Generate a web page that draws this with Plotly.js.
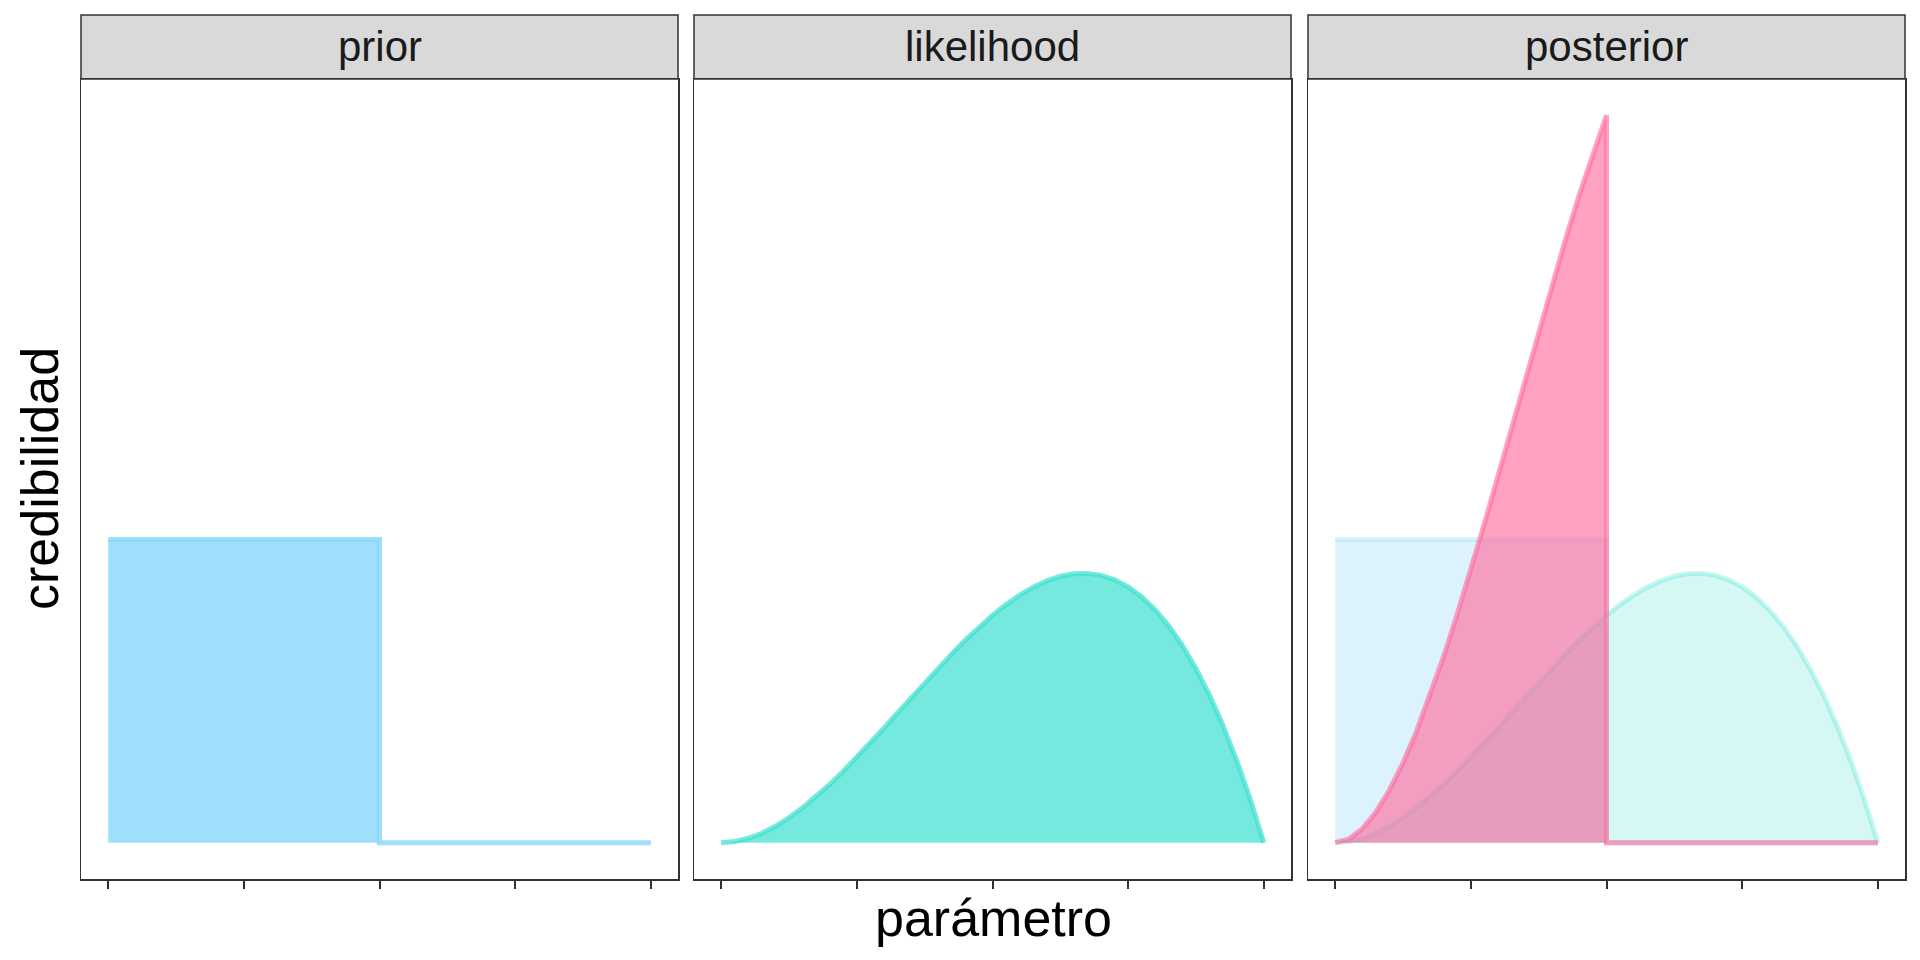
<!DOCTYPE html>
<html>
<head>
<meta charset="utf-8">
<script src="https://cdn.plot.ly/plotly-3.0.1.min.js"></script>
<style>
  html, body { margin: 0; padding: 0; background: #ffffff; }
  #chart { width: 1920px; height: 960px; }
</style>
</head>
<body>
<div id="chart"></div>
<script>
// ---- data ----
const panels = ['prior', 'likelihood', 'posterior'];
const tickValues = [0, 0.25, 0.5, 0.75, 1];

const priorX = [0, 0.5, 0.5, 1];
const priorY = [2, 2, 0, 0];

const likelihoodX = [0, 0.025, 0.05, 0.075, 0.1, 0.125, 0.15, 0.175, 0.2, 0.225, 0.25,
  0.275, 0.3, 0.325, 0.35, 0.375, 0.4, 0.425, 0.45, 0.475, 0.5,
  0.525, 0.55, 0.575, 0.6, 0.625, 0.65, 0.675, 0.7, 0.725, 0.75,
  0.775, 0.8, 0.825, 0.85, 0.875, 0.9, 0.925, 0.95, 0.975, 1];
const likelihoodY = [0, 0.007, 0.029, 0.062, 0.108, 0.164, 0.230, 0.303, 0.384, 0.471, 0.563,
  0.658, 0.756, 0.856, 0.956, 1.055, 1.152, 1.246, 1.337, 1.421, 1.500,
  1.571, 1.634, 1.686, 1.728, 1.758, 1.775, 1.777, 1.764, 1.735, 1.688,
  1.622, 1.536, 1.429, 1.301, 1.148, 0.972, 0.770, 0.542, 0.285, 0];

const posteriorX = [0, 0.025, 0.05, 0.075, 0.1, 0.125, 0.15, 0.175, 0.2, 0.225, 0.25,
  0.275, 0.3, 0.325, 0.35, 0.375, 0.4, 0.425, 0.45, 0.475, 0.5, 0.5, 1];
const posteriorY = [0, 0.023, 0.091, 0.200, 0.346, 0.525, 0.734, 0.970, 1.229, 1.507, 1.800,
  2.105, 2.419, 2.738, 3.058, 3.375, 3.686, 3.988, 4.277, 4.549, 4.800, 0, 0];

// ---- styling ----
const FONT = 'Liberation Sans, Arial, Helvetica, sans-serif';
const PRIOR_RGB = '135,215,250';
const LIK_RGB = '64,224,208';
const POST_RGB = '255,110,160';

function area(x, y, rgb, fillA, lineA, xa, ya) {
  return {
    type: 'scatter', mode: 'lines', x: x, y: y,
    xaxis: xa, yaxis: ya,
    fill: 'tozeroy',
    fillcolor: 'rgba(' + rgb + ',' + fillA + ')',
    line: { color: 'rgba(' + rgb + ',' + lineA + ')', width: 5 },
    hoverinfo: 'skip', showlegend: false
  };
}

const traces = [
  area(priorX, priorY, PRIOR_RGB, 0.8, 0.8, 'x', 'y'),
  area(likelihoodX, likelihoodY, LIK_RGB, 0.72, 0.72, 'x2', 'y2'),
  area(priorX, priorY, PRIOR_RGB, 0.29, 0.3, 'x3', 'y3'),
  area(likelihoodX, likelihoodY, LIK_RGB, 0.22, 0.3, 'x3', 'y3'),
  area(posteriorX, posteriorY, POST_RGB, 0.65, 0.65, 'x3', 'y3')
];

// geometry (pixels)
const W = 1920, H = 960;
const mL = 81, mR = 15, mT = 15, mB = 81;
const pw = W - mL - mR;   // 1824
const ph = H - mT - mB;   // 864
const panelPx = [[81, 678], [694, 1291], [1308, 1905]];
const domains = panelPx.map(p => [(p[0] - mL) / pw, (p[1] - mL) / pw]);
const panelTop = 800 / ph;  // panel area height 800 px

function xax(i) {
  return {
    domain: domains[i], range: [-0.05, 1.05], anchor: i === 0 ? 'y' : 'y' + (i + 1),
    showgrid: false, zeroline: false, showline: true, mirror: true,
    linecolor: '#333333', linewidth: 1.5,
    ticks: 'outside', ticklen: 8, tickwidth: 2, tickcolor: '#333333',
    tickmode: 'array', tickvals: tickValues, showticklabels: false, fixedrange: true
  };
}
function yax(i) {
  return {
    domain: [0, panelTop], range: [-0.24, 5.04], anchor: i === 0 ? 'x' : 'x' + (i + 1),
    showgrid: false, zeroline: false, showline: true, mirror: true,
    linecolor: '#333333', linewidth: 1.5,
    ticks: '', showticklabels: false, fixedrange: true
  };
}

const shapes = domains.map(d => ({
  type: 'rect', xref: 'paper', yref: 'paper',
  x0: d[0], x1: d[1], y0: panelTop, y1: 1,
  fillcolor: '#d9d9d9', line: { color: '#333333', width: 1.5 }, layer: 'below'
}));

const annotations = panels.map((name, i) => ({
  text: name, xref: 'paper', yref: 'paper',
  x: (domains[i][0] + domains[i][1]) / 2, y: (panelTop + 1) / 2,
  xanchor: 'center', yanchor: 'middle', showarrow: false,
  font: { family: FONT, size: 42, color: '#1a1a1a' }
}));
annotations.push({
  text: 'credibilidad', xref: 'paper', yref: 'paper',
  x: (40 - mL) / pw, y: panelTop / 2, textangle: -90,
  xanchor: 'center', yanchor: 'middle', showarrow: false,
  font: { family: FONT, size: 52, color: '#000000' }
});
annotations.push({
  text: 'parámetro', xref: 'paper', yref: 'paper',
  x: ((panelPx[0][0] + panelPx[2][1]) / 2 - mL) / pw, y: (879 + mB - 918 - mB) / ph - 0,
  xanchor: 'center', yanchor: 'middle', showarrow: false,
  font: { family: FONT, size: 52, color: '#000000' }
});
// fix y for x title: pixel 918 from top -> paper coordinate
annotations[annotations.length - 1].y = (H - mB - 918) / ph;

const layout = {
  width: W, height: H,
  margin: { l: mL, r: mR, t: mT, b: mB, pad: 0 },
  paper_bgcolor: '#ffffff', plot_bgcolor: '#ffffff',
  showlegend: false, hovermode: false,
  font: { family: FONT },
  xaxis: xax(0), xaxis2: xax(1), xaxis3: xax(2),
  yaxis: yax(0), yaxis2: yax(1), yaxis3: yax(2),
  shapes: shapes, annotations: annotations
};

Plotly.newPlot('chart', traces, layout, { displayModeBar: false, staticPlot: true });
</script>
</body>
</html>
